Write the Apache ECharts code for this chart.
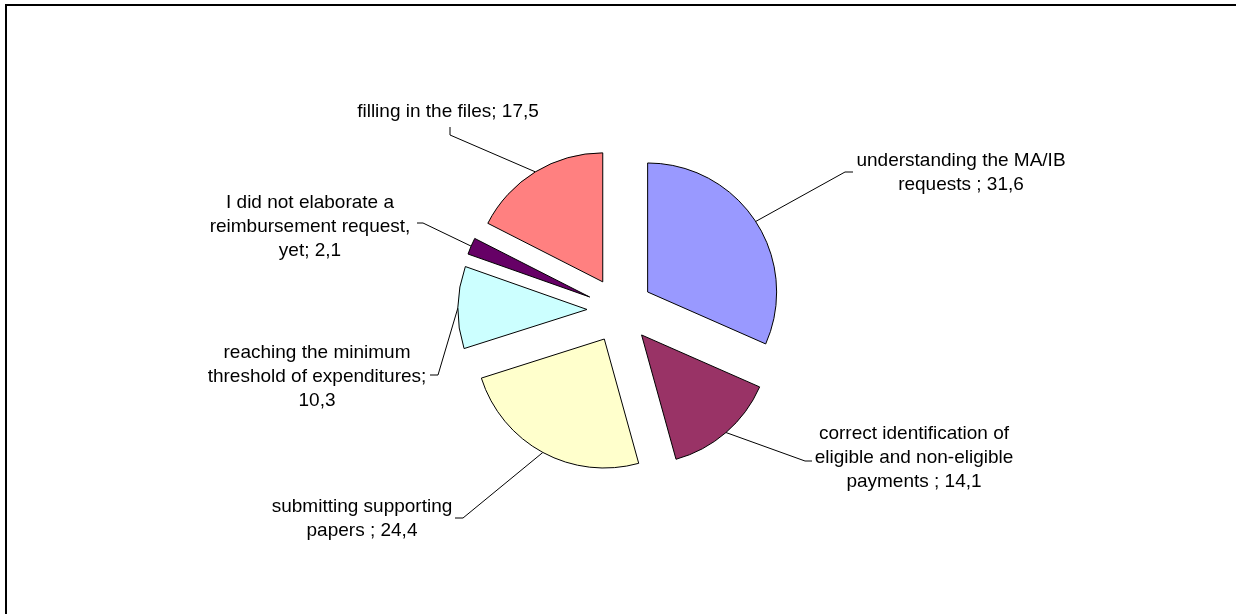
<!DOCTYPE html>
<html>
<head>
<meta charset="utf-8">
<script src="https://cdn.jsdelivr.net/npm/echarts@6/dist/echarts.min.js"></script>
<style>
  html, body { margin: 0; padding: 0; background: #fff; }
  #chart { width: 1236px; height: 614px; }
</style>
</head>
<body>
<div id="chart"></div>
<script>
// Difficulties met when elaborating reimbursement requests (%)
const categories = [
  'understanding the MA/IB\nrequests',
  'correct identification of\neligible and non-eligible\npayments',
  'submitting supporting\npapers',
  'reaching the minimum\nthreshold of expenditures',
  'I did not elaborate a\nreimbursement request,\nyet',
  'filling in the files'
];
const values = [31.6, 14.1, 24.4, 10.3, 2.1, 17.5];
// separator between name and value, as printed in each label
const separators = [' ; ', ' ; ', ' ; ', ';\n', '; ', '; '];
const colors = ['#9999FF', '#993366', '#FFFFCC', '#CCFFFF', '#660066', '#FF8080'];

// pie geometry
const CENTER = [620, 310];
const RADIUS = 129;
const EXPLODE = 33;

// label placement: text centre, leader bend point, leader end point
const labelGuides = [
  { text: [961, 173], bend: [845, 172], end: [853, 172] },
  { text: [914, 458], bend: [805, 461], end: [812, 461] },
  { text: [362, 519], bend: [463, 518], end: [455, 518] },
  { text: [317, 377], bend: [438, 375], end: [430, 375] },
  { text: [310, 227], bend: [423, 223], end: [417, 223] },
  { text: [448, 112], bend: [450, 135], end: [450, 127] }
];

const fmt = v => v.toFixed(1).replace('.', ',');
const total = values.reduce((a, b) => a + b, 0);

// leader anchor: middle of each exploded slice's outer arc
function arcAnchor(i) {
  let before = 0;
  for (let k = 0; k < i; k++) before += values[k];
  const mid = (before + values[i] / 2) / total * 2 * Math.PI;
  const d = RADIUS + EXPLODE;
  return [CENTER[0] + d * Math.sin(mid), CENTER[1] - d * Math.cos(mid)];
}

const chart = echarts.init(document.getElementById('chart'), null, { renderer: 'canvas' });

const slices = categories.map((name, i) => ({
  name: name,
  value: values[i],
  selected: true,
  itemStyle: { color: colors[i] }
}));

const labelItems = categories.map((name, i) => ({ name: name, value: values[i] }));

chart.setOption({
  animation: false,
  backgroundColor: '#ffffff',
  graphic: [{
    type: 'rect',
    shape: { x: 6, y: 5, width: 1400, height: 800 },
    style: { fill: 'none', stroke: '#000', lineWidth: 2 },
    silent: true
  }],
  series: [{
    // exploded slices
    type: 'pie',
    center: CENTER,
    radius: RADIUS,
    startAngle: 90,
    clockwise: true,
    selectedMode: 'multiple',
    selectedOffset: EXPLODE,
    silent: true,
    itemStyle: { borderColor: '#000', borderWidth: 1 },
    select: { itemStyle: { borderColor: '#000', borderWidth: 1 } },
    emphasis: { disabled: true },
    label: { show: false },
    labelLine: { show: false },
    data: slices
  }, {
    // data labels with leader lines
    type: 'pie',
    center: CENTER,
    radius: RADIUS,
    startAngle: 90,
    clockwise: true,
    silent: true,
    avoidLabelOverlap: false,
    itemStyle: { color: 'rgba(0,0,0,0)', borderWidth: 0 },
    emphasis: { disabled: true },
    label: {
      show: true,
      position: 'outside',
      color: '#000',
      fontFamily: 'Liberation Sans, Arial, sans-serif',
      fontSize: 19,
      lineHeight: 24,
      formatter: p => p.name + separators[p.dataIndex] + fmt(p.value)
    },
    labelLine: {
      show: true,
      smooth: false,
      lineStyle: { color: '#000', width: 1 }
    },
    labelLayout: function (params) {
      const g = labelGuides[params.dataIndex];
      return {
        x: g.text[0],
        y: g.text[1],
        align: 'center',
        verticalAlign: 'middle',
        labelLinePoints: [arcAnchor(params.dataIndex), g.bend, g.end]
      };
    },
    data: labelItems
  }]
});
</script>
</body>
</html>
